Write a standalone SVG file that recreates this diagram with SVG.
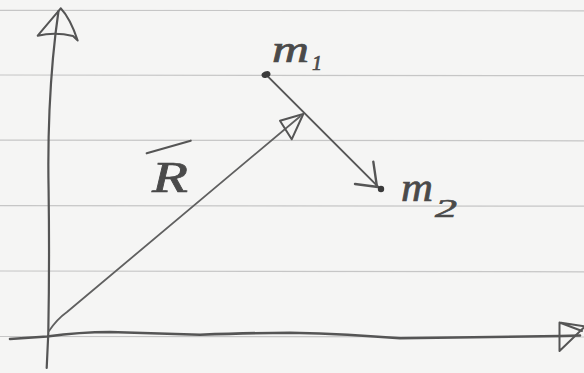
<svg xmlns="http://www.w3.org/2000/svg" width="584" height="373" viewBox="0 0 584 373">
  <style>
    .rule { stroke: #c6c6c6; stroke-width: 1.2; fill: none; }
    .pencil { stroke: #555; fill: none; stroke-linecap: round; stroke-linejoin: round; }
    .axis { stroke-width: 2.2; }
    .vec { stroke-width: 1.8; stroke: #606060; }
    .head { stroke-width: 2; }
    .lbl { font-family: "Liberation Serif", "DejaVu Serif", serif; font-style: italic; fill: #4a4a4a; stroke: #4a4a4a; stroke-width: 0.7; }
    .dot { fill: #3a3a3a; }
  </style>
  <rect width="584" height="373" fill="#f5f5f4"/>
  <g id="paper">
    <line class="rule" x1="0" y1="10.3" x2="584" y2="10.8"/>
    <line class="rule" x1="0" y1="75" x2="584" y2="75.7"/>
    <line class="rule" x1="0" y1="140.2" x2="584" y2="140.8"/>
    <line class="rule" x1="0" y1="205.7" x2="584" y2="206.2"/>
    <line class="rule" x1="0" y1="271" x2="584" y2="271.8"/>
    <line class="rule" x1="0" y1="336.5" x2="584" y2="337"/>
  </g>
  <g id="axes">
    <g id="y-axis">
      <path class="pencil axis" d="M46.7,368 L48.3,333 Q49.6,260 48.6,190 Q47.8,150 49.5,110 Q52,55 58.5,11"/>
      <path class="pencil head" d="M60.7,8.3 L37.7,35.7 Q55,31.5 73,36 L77.7,40.5 Q70,18 60.7,8.3 Z"/>
    </g>
    <g id="x-axis">
      <path class="pencil axis" style="stroke-width:2.6" d="M10,339 L47,336.5 Q80,332 110,332 Q160,333.5 200,334.7 Q250,333 290,332.7 Q350,334 400,338.3 Q480,337 560,336 L580,335.5"/>
      <path class="pencil head" d="M559.5,322.5 L585,326.5 L559.5,351 Z M559.5,322.5 L582,331"/>
    </g>
  </g>
  <g id="connectors">
    <g id="vector-R">
      <path class="pencil vec" d="M49,331 C55,322 60,317 67,312 L300,116.5"/>
      <path class="pencil head" d="M303.3,114 L280,120.7 L291.7,139.3 Z"/>
    </g>
    <g id="m1-to-m2">
      <path class="pencil" style="stroke-width:1.9" d="M268,76.7 L378,186.7"/>
      <path class="pencil" style="stroke-width:2.4" d="M373.3,161.7 L377,187 M355,184 L378,187"/>
    </g>
  </g>
  <g id="m1">
    <ellipse class="dot" cx="266" cy="74.5" rx="4.6" ry="3.2" transform="rotate(-20 266 74.5)"/>
    <text class="lbl" x="272" y="62" font-size="38" textLength="37" lengthAdjust="spacingAndGlyphs">m</text>
    <text class="lbl" x="312" y="70" font-size="20">1</text>
  </g>
  <g id="m2">
    <circle class="dot" cx="381" cy="189" r="3.2"/>
    <text class="lbl" x="401" y="201" font-size="40" textLength="32" lengthAdjust="spacingAndGlyphs">m</text>
    <text class="lbl" x="435" y="217" font-size="26" textLength="22" lengthAdjust="spacingAndGlyphs">2</text>
  </g>
  <g id="R-label">
    <path class="pencil" style="stroke-width:2.2" d="M146.7,153.3 L190.7,140.7"/>
    <text class="lbl" x="152" y="192" font-size="44" textLength="36" lengthAdjust="spacingAndGlyphs">R</text>
  </g>
</svg>
